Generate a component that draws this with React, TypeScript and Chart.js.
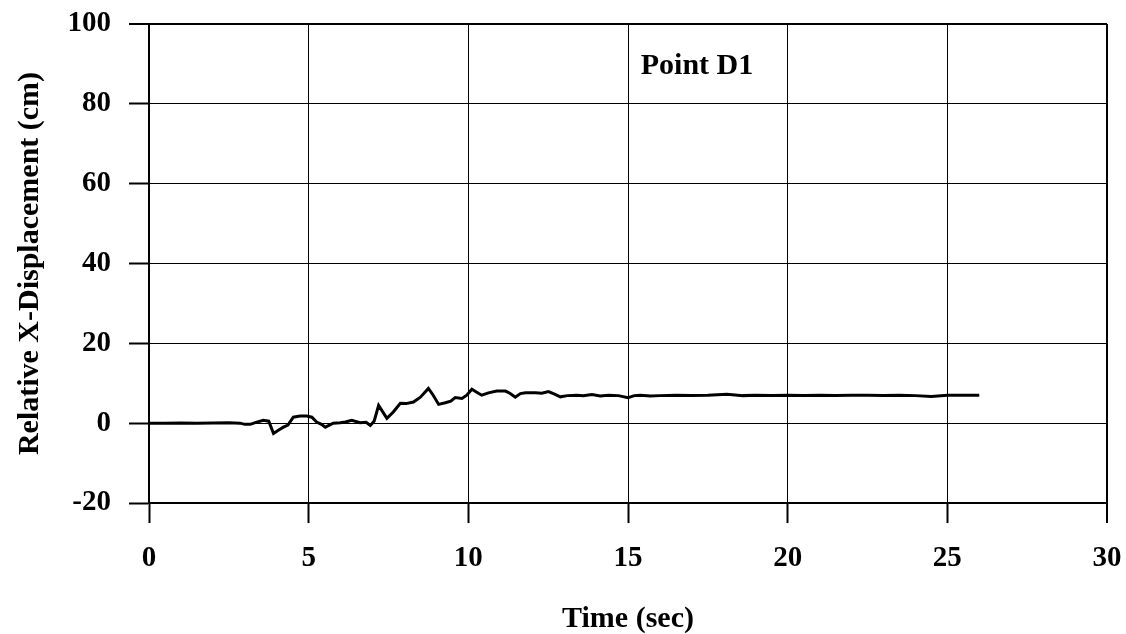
import React, { useEffect, useRef } from "react";
import { Chart, registerables } from "chart.js";

Chart.register(...registerables);

const times = [0,0.5,1,1.5,2,2.5,2.85,3.0,3.17,3.35,3.58,3.75,3.9,4.05,4.21,4.35,4.52,4.73,4.94,5.1,5.25,5.4,5.52,5.77,5.99,6.15,6.35,6.61,6.8,6.93,7.05,7.19,7.45,7.65,7.87,8.05,8.28,8.5,8.75,8.9,9.07,9.28,9.45,9.59,9.8,9.95,10.11,10.25,10.42,10.63,10.89,11.16,11.3,11.47,11.63,11.79,12.1,12.3,12.51,12.7,12.88,13.1,13.4,13.6,13.87,14.13,14.39,14.7,15.0,15.2,15.39,15.7,16,16.5,17,17.5,18.1,18.6,19,19.5,20,20.5,21,21.5,22,22.5,23,23.5,24,24.5,25,25.5,26];

const displacement = [0,0,0.05,0,0.05,0.1,0,-0.3,-0.3,0.2,0.7,0.5,-2.6,-1.8,-1.0,-0.5,1.5,1.8,1.8,1.5,0.3,-0.3,-1.0,0,0.1,0.3,0.7,0.1,0.2,-0.6,0.5,4.45,1.2,2.8,5.0,4.9,5.3,6.5,8.7,7.0,4.7,5.1,5.5,6.4,6.2,7.0,8.5,7.8,7.0,7.6,8.05,8.05,7.5,6.5,7.4,7.6,7.6,7.5,7.9,7.3,6.6,6.9,7.0,6.9,7.2,6.8,7.0,6.9,6.4,6.9,7.0,6.8,6.9,7.0,6.9,7.0,7.25,6.9,7.0,6.9,7.0,6.95,7.0,6.9,7.0,7.0,6.95,7.0,6.9,6.7,7.0,7.0,7.0];

const annotationText = "Point D1";
const annotationAt = { x: 17.16, y: 89.4 };

const xTitle = "Time (sec)";
const yTitle = "Relative X-Displacement (cm)";

const FONT = "'Liberation Serif', 'Times New Roman', serif";

export default function App() {
  const canvasRef = useRef<HTMLCanvasElement | null>(null);

  useEffect(() => {
    document.body.style.margin = "0";
    const canvas = canvasRef.current;
    if (!canvas) return;

    const labelPlugin = {
      id: "pointLabel",
      afterDatasetsDraw(chart: any) {
        const { ctx, scales } = chart;
        const px = scales.x.getPixelForValue(annotationAt.x);
        const py = scales.y.getPixelForValue(annotationAt.y);
        ctx.save();
        ctx.font = `bold 30px ${FONT}`;
        ctx.fillStyle = "#000";
        ctx.textAlign = "center";
        ctx.textBaseline = "middle";
        ctx.fillText(annotationText, px, py);
        ctx.restore();
      },
    };

    const chart = new Chart(canvas, {
      type: "line",
      data: {
        datasets: [
          {
            data: times.map((t, i) => ({ x: t, y: displacement[i] })),
            borderColor: "#000",
            borderWidth: 3,
            pointRadius: 0,
            tension: 0,
            fill: false,
          },
        ],
      },
      options: {
        animation: false,
        responsive: false,
        devicePixelRatio: 1,
        layout: { padding: { left: 0, right: 19, top: 24, bottom: 0 } },
        plugins: {
          legend: { display: false },
          tooltip: { enabled: false },
        },
        scales: {
          x: {
            type: "linear",
            min: 0,
            max: 30,
            afterFit(scale: any) {
              scale.height = 131;
              scale.paddingLeft = 0;
              scale.paddingRight = 0;
            },
            ticks: {
              stepSize: 5,
              color: "#000",
              padding: 18,
              font: { family: FONT, size: 29, weight: "bold" },
            },
            grid: {
              color: "#000",
              lineWidth: (c: any) => (c.tick && c.tick.value === 30 ? 2 : 1),
              tickLength: 20,
              tickWidth: 2,
              drawTicks: true,
            },
            border: { color: "#000", width: 2 },
            title: {
              display: true,
              text: xTitle,
              color: "#000",
              font: { family: FONT, size: 30, weight: "bold", lineHeight: 1 },
              padding: { top: 1, bottom: 0 },
            },
          },
          y: {
            type: "linear",
            min: -20,
            max: 100,
            afterFit(scale: any) {
              scale.width = 149;
              scale.paddingTop = 0;
              scale.paddingBottom = 0;
            },
            ticks: {
              stepSize: 20,
              color: "#000",
              padding: 18,
              font: { family: FONT, size: 29, weight: "bold" },
            },
            grid: {
              color: "#000",
              lineWidth: (c: any) => (c.tick && c.tick.value === 100 ? 2 : 1),
              tickLength: 20,
              tickWidth: 2,
              drawTicks: true,
            },
            border: { color: "#000", width: 2 },
            title: {
              display: true,
              text: yTitle,
              color: "#000",
              font: { family: FONT, size: 30, weight: "bold", lineHeight: 1 },
              padding: { top: 15, bottom: 0 },
            },
          },
        },
      },
      plugins: [labelPlugin],
    });

    return () => {
      chart.destroy();
    };
  }, []);

  return (
    <div style={{ width: 1126, height: 634 }}>
      <canvas ref={canvasRef} width={1126} height={634} style={{ display: "block" }} />
    </div>
  );
}
